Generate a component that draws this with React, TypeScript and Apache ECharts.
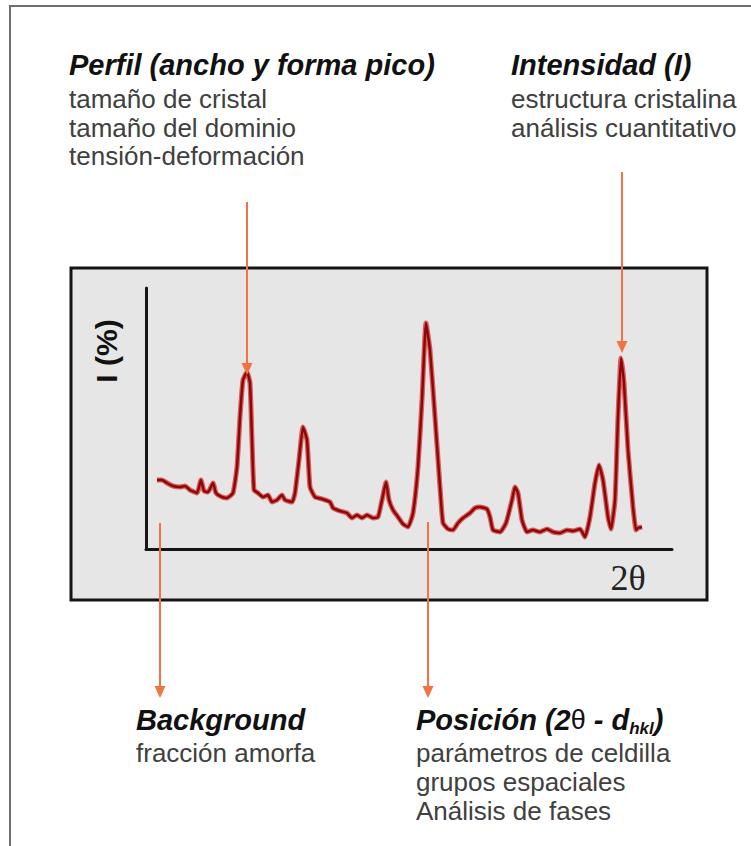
import React, { useEffect, useRef } from "react";
import * as echarts from "echarts";

// 2θ positions (arbitrary units along the axis) and intensities (arbitrary units)
const twoTheta = [
  11, 16, 21, 27, 34, 39, 44, 51, 55, 58, 62, 67, 70, 76, 81, 87, 91, 94, 97, 101,
  104, 106, 108, 112, 117, 122, 126, 131, 136, 139, 146, 149, 153, 157, 161, 164, 169, 176, 184, 187,
  194, 201, 206, 211, 216, 221, 227, 232, 236, 240, 243, 247, 252, 257, 262, 267, 272, 276, 280, 284,
  289, 294, 297, 302, 307, 312, 317, 324, 329, 334, 341, 344, 347, 354, 360, 366, 369, 372, 376, 381,
  387, 394, 401, 407, 414, 421, 427, 434, 439, 444, 449, 453, 457, 462, 465, 469, 472, 475, 478, 482,
  487, 490, 492, 496,
];
const intensity = [
  69, 69, 66, 63, 62, 63, 59, 56, 69, 58, 57, 66, 56, 52, 51, 56, 82, 132, 169, 177,
  166, 109, 59, 56, 52, 54, 47, 49, 54, 49, 47, 56, 89, 122, 109, 62, 52, 50, 47, 41,
  38, 36, 31, 34, 31, 34, 31, 32, 49, 67, 49, 39, 32, 25, 22, 36, 82, 149, 226, 199,
  132, 62, 26, 20, 19, 26, 31, 36, 41, 42, 40, 32, 19, 17, 26, 49, 62, 56, 29, 17,
  19, 17, 20, 17, 16, 19, 18, 20, 12, 32, 66, 84, 69, 32, 20, 49, 132, 191, 166, 99,
  42, 19, 21, 22,
];

const xMax = 526;
const yMax = 261;

const profileTitle = "Perfil (ancho y forma pico)";
const profileLines = ["tamaño de cristal", "tamaño del dominio", "tensión-deformación"];
const intensityTitle = "Intensidad (I)";
const intensityLines = ["estructura cristalina", "análisis cuantitativo"];
const backgroundTitle = "Background";
const backgroundLines = ["fracción amorfa"];
const positionLines = ["parámetros de celdilla", "grupos espaciales", "Análisis de fases"];
const yAxisTitle = "I (%)";
const xAxisTitle = "2θ";

const FONT = "'Liberation Sans', Arial, Helvetica, sans-serif";
const ORANGE = "#f27244";

function arrow(x: number, y1: number, y2: number) {
  return [
    {
      type: "line",
      z: 20,
      shape: { x1: x, y1, x2: x, y2: y2 - 10 },
      style: { stroke: ORANGE, lineWidth: 2 },
    },
    {
      type: "polygon",
      z: 20,
      shape: { points: [[x - 5.5, y2 - 12], [x + 5.5, y2 - 12], [x, y2]] },
      style: { fill: ORANGE },
    },
  ];
}

function heading(text: string, x: number, y: number) {
  return {
    type: "text",
    z: 20,
    x,
    y,
    style: {
      text,
      fontFamily: FONT,
      fontSize: 29,
      fontWeight: "bold",
      fontStyle: "italic",
      fill: "#111",
      align: "left",
      verticalAlign: "middle",
    },
  };
}

function body(lines: string[], x: number, y0: number, step: number) {
  return lines.map((t, i) => ({
    type: "text",
    z: 20,
    x,
    y: y0 + i * step,
    style: {
      text: t,
      fontFamily: FONT,
      fontSize: 26,
      fill: "#404040",
      align: "left",
      verticalAlign: "middle",
    },
  }));
}

export default function App() {
  const ref = useRef<HTMLDivElement>(null);
  useEffect(() => {
    if (!ref.current) return;
    const chart = echarts.init(ref.current, null, { renderer: "svg" });
    const data = twoTheta.map((x, i) => [x, intensity[i]]);
    chart.setOption({
      animation: false,
      backgroundColor: "#ffffff",
      grid: { left: 146, top: 288, width: 526, height: 261, containLabel: false },
      xAxis: {
        type: "value",
        min: 0,
        max: xMax,
        axisLine: { show: true, lineStyle: { color: "#161616", width: 3 } },
        axisTick: { show: false },
        axisLabel: { show: false },
        splitLine: { show: false },
      },
      yAxis: {
        type: "value",
        min: 0,
        max: yMax,
        axisLine: { show: true, lineStyle: { color: "#161616", width: 3 } },
        axisTick: { show: false },
        axisLabel: { show: false },
        splitLine: { show: false },
      },
      series: [
        {
          type: "line",
          data,
          showSymbol: false,
          symbol: "none",
          smooth: 0.15,
          z: 3,
          lineStyle: { color: "#d83a3a", width: 5, opacity: 0.8 },
        },
        {
          type: "line",
          data,
          showSymbol: false,
          symbol: "none",
          smooth: 0.15,
          z: 4,
          lineStyle: { color: "#8a0808", width: 2.5 },
        },
      ],
      graphic: [
        {
          type: "polyline",
          z: 1,
          shape: { points: [[10, 846], [10, 6], [751, 6]] },
          style: { stroke: "#6e6e6e", lineWidth: 2, fill: null },
        },
        {
          type: "rect",
          z: -1,
          shape: { x: 71, y: 268, width: 636, height: 332 },
          style: { fill: "#e6e6e6", stroke: "#141414", lineWidth: 3 },
        },
        {
          type: "text",
          z: 20,
          x: 106,
          y: 351,
          rotation: Math.PI / 2,
          style: {
            text: yAxisTitle,
            fontFamily: FONT,
            fontSize: 30,
            fontWeight: "bold",
            fill: "#111",
            align: "center",
            verticalAlign: "middle",
          },
        },
        {
          type: "text",
          z: 20,
          x: 628,
          y: 578,
          style: {
            text: xAxisTitle,
            fontFamily: "'Liberation Serif', 'Times New Roman', serif",
            fontSize: 36,
            fill: "#222",
            align: "center",
            verticalAlign: "middle",
          },
        },
        heading(profileTitle, 69, 65),
        ...body(profileLines, 69, 99, 28.5),
        heading(intensityTitle, 511, 65),
        ...body(intensityLines, 511, 99, 28.5),
        heading(backgroundTitle, 136, 720),
        ...body(backgroundLines, 136, 753, 29),
        {
          type: "text",
          z: 20,
          x: 416,
          y: 720,
          style: {
            text: "{m|Posición (2}{t|θ}{m| - d}{s|hkl}{m|)}",
            fontFamily: FONT,
            align: "left",
            verticalAlign: "middle",
            rich: {
              m: {
                fontFamily: FONT,
                fontSize: 29,
                fontWeight: "bold",
                fontStyle: "italic",
                fill: "#111",
                lineHeight: 34,
              },
              t: {
                fontFamily: FONT,
                fontSize: 27,
                fontWeight: "normal",
                fontStyle: "normal",
                fill: "#111",
                lineHeight: 34,
              },
              s: {
                fontFamily: FONT,
                fontSize: 17,
                fontWeight: "bold",
                fontStyle: "italic",
                fill: "#111",
                verticalAlign: "bottom",
                lineHeight: 34,
              },
            },
          },
        },
        ...body(positionLines, 416, 753, 29),
        ...arrow(247, 202, 375),
        ...arrow(622, 172, 353),
        ...arrow(160, 523, 698),
        ...arrow(428, 522, 698),
      ],
    });
    return () => chart.dispose();
  }, []);
  return (
    <div
      ref={ref}
      style={{ position: "fixed", left: 0, top: 0, width: 751, height: 846 }}
    />
  );
}
